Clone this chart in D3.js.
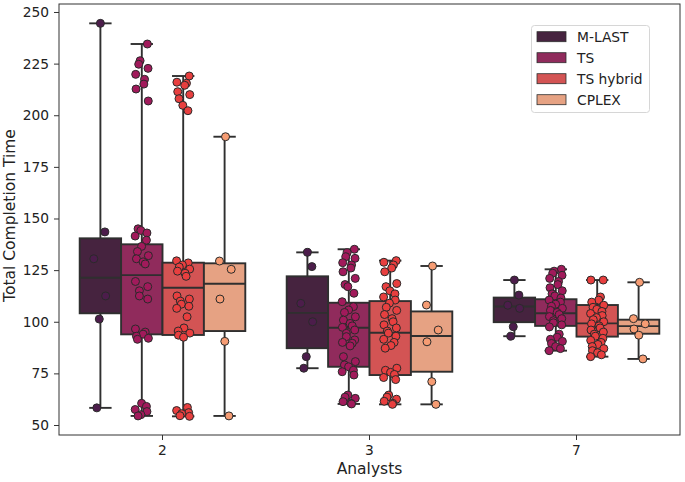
<!DOCTYPE html>
<html>
<head>
<meta charset="utf-8">
<script src="https://cdn.jsdelivr.net/npm/d3@7"></script>
<style>
  html, body { margin: 0; padding: 0; background: #fff; }
  svg { display: block; }
  text { font-family: "DejaVu Sans", sans-serif; fill: #222; }
</style>
</head>
<body>
<svg id="chart" width="685" height="482"></svg>
<script>
// ---------------- DATA ----------------
const categories = ["2", "3", "7"];
const series = ["M-LAST", "TS", "TS hybrid", "CPLEX"];
const yTicks = [50, 75, 100, 125, 150, 175, 200, 225, 250];

// Box statistics per series, in category order: [min, q1, median, q3, max]
const boxMLAST  = [[58.3, 104.1, 121.3, 140.4, 244.5], [77.5, 87.2, 104.3, 122.0, 133.6], [93.0, 99.8, 107.4, 111.7, 120.2]];
const boxTS     = [[54.4, 93.9, 122.6, 137.5, 234.5], [60.2, 78.2, 97.1, 109.2, 135.1], [86.0, 98.0, 104.1, 110.9, 125.4]];
const boxTSH    = [[54.2, 93.6, 116.5, 128.6, 219.0], [60.0, 74.2, 94.7, 110.0, 129.6], [83.1, 92.8, 99.2, 108.1, 120.2]];
const boxCPLEX  = [[54.4, 95.5, 118.4, 128.3, 189.6], [60.0, 75.8, 93.1, 105.0, 127.0], [82.0, 94.2, 97.9, 101.0, 119.1]];

// Individual observations per series, in category order
const ptsMLAST = [
  [244.5, 143.5, 130.5, 112.5, 101.3, 58.3],
  [133.6, 126.7, 108.9, 100.0, 83.1, 77.5],
  [120.2, 112.9, 108.0, 106.5, 97.6, 93.0]
];
const ptsTS = [
  [234.5, 226.4, 224.7, 222.7, 219.8, 217.4, 215.1, 212.7, 206.9,
   145.0, 144.2, 143.0, 141.5, 139.5, 136.5, 134.0, 132.0, 130.5, 129.0, 128.0,
   119.5, 117.0, 115.0, 112.5, 111.0,
   96.5, 95.0, 94.0, 93.0, 92.0, 91.5,
   60.5, 59.0, 57.5, 56.5, 55.0, 54.4],
  [135.1, 133.4, 131.5, 130.7, 128.6, 127.5, 126.0, 124.2, 121.0, 118.0, 117.0, 113.8,
   109.7, 107.3, 105.7, 104.5, 102.4, 100.8, 99.2, 98.0, 97.3, 96.0, 94.4, 92.8, 91.2, 90.0,
   89.6, 88.3, 83.1, 80.7, 79.1, 78.2, 76.5, 75.8, 74.2,
   64.5, 63.5, 62.9, 61.3, 60.5, 60.2],
  [125.4, 124.5, 123.5, 122.5, 121.0, 119.5, 118.0, 116.5, 115.0, 113.5, 112.5, 111.5,
   110.5, 109.5, 108.5, 107.5, 106.5, 105.5, 104.5, 103.5, 102.5, 101.5, 100.5, 99.5,
   98.5, 97.5, 94.0, 92.5, 91.5, 90.5, 89.5, 88.0, 87.0, 86.0]
];
const ptsTSH = [
  [219.0, 216.0, 215.5, 214.5, 211.4, 210.0, 208.0, 204.8, 202.2,
   129.5, 128.5, 127.5, 126.5, 125.5, 124.5, 123.5, 122.0,
   112.5, 111.0, 110.0, 108.5, 107.5, 106.5, 102.4,
   97.0, 95.5, 94.5, 93.5, 92.5,
   58.5, 57.0, 56.0, 55.5, 54.5, 54.2],
  [129.6, 128.8, 127.5, 126.0, 124.2, 118.5, 117.0, 115.0, 113.5, 112.0, 110.5, 109.0,
   107.0, 105.5, 103.5, 101.5, 100.0, 98.5, 97.0, 95.5, 94.5, 93.0, 91.5, 90.0, 88.5, 87.2,
   77.5, 76.5, 75.5, 74.5, 73.0, 72.0, 64.5, 63.5, 62.5, 61.5, 60.5, 60.0],
  [120.2, 120.2, 112.0, 110.5, 109.5, 108.0, 107.0, 106.0, 105.0, 104.0, 103.0, 102.0,
   101.0, 100.0, 99.0, 98.0, 97.0, 96.0, 95.0, 94.0, 93.0, 92.0, 91.0, 90.0, 89.0,
   88.0, 87.0, 86.0, 85.0, 84.0, 83.1]
];
const ptsCPLEX = [
  [189.6, 129.4, 125.4, 111.0, 90.5, 54.4],
  [127.0, 108.1, 96.0, 90.3, 71.0, 60.0],
  [119.1, 101.5, 99.0, 96.5, 93.5, 82.0]
];

const pointColors = ["#4c1d4b", "#a11a5b", "#e83f3f", "#f69c73"];
const boxColors   = ["#46233f", "#902b5c", "#d35454", "#e6a283"];

// ---------------- BUILD ----------------
const boxStats = [boxMLAST, boxTS, boxTSH, boxCPLEX];
const points = [ptsMLAST, ptsTS, ptsTSH, ptsCPLEX];

const svg = d3.select("#chart");
const margin = {left: 59, right: 5, top: 4, bottom: 47};
const W = 685, H = 482;

const x = d3.scaleBand().domain(categories).range([margin.left, W - margin.right]).padding(0);
const bw = x.bandwidth();
const xh = d3.scaleBand().domain(series).range([0.1 * bw, 0.9 * bw]).padding(0);
const hw = xh.bandwidth();
const y = d3.scaleLinear().domain([45.16, 253.87]).range([H - margin.bottom, margin.top]);

const edge = "#2f2f2f";
const g = svg.append("g");

// Boxes
series.forEach((s, si) => {
  categories.forEach((c, ci) => {
    const [mn, q1, md, q3, mx] = boxStats[si][ci];
    const x0 = x(c) + xh(s);
    const xc = x0 + hw / 2;
    const cap = hw * 0.27;
    const grp = g.append("g");
    grp.append("line").attr("x1", xc).attr("x2", xc).attr("y1", y(q3)).attr("y2", y(mx))
      .attr("stroke", edge).attr("stroke-width", 1.9);
    grp.append("line").attr("x1", xc).attr("x2", xc).attr("y1", y(q1)).attr("y2", y(mn))
      .attr("stroke", edge).attr("stroke-width", 1.9);
    grp.append("line").attr("x1", xc - cap).attr("x2", xc + cap).attr("y1", y(mx)).attr("y2", y(mx))
      .attr("stroke", edge).attr("stroke-width", 1.9);
    grp.append("line").attr("x1", xc - cap).attr("x2", xc + cap).attr("y1", y(mn)).attr("y2", y(mn))
      .attr("stroke", edge).attr("stroke-width", 1.9);
    grp.append("rect").attr("x", x0).attr("width", hw).attr("y", y(q3)).attr("height", y(q1) - y(q3))
      .attr("fill", boxColors[si]).attr("stroke", edge).attr("stroke-width", 1.9);
    grp.append("line").attr("x1", x0).attr("x2", x0 + hw).attr("y1", y(md)).attr("y2", y(md))
      .attr("stroke", edge).attr("stroke-width", 1.9);
  });
});

// Points (strip plot with deterministic jitter)
series.forEach((s, si) => {
  categories.forEach((c, ci) => {
    const xc = x(c) + xh(s) + hw / 2;
    const vals = points[si][ci];
    g.append("g").selectAll("circle").data(vals).join("circle")
      .attr("cx", (d, i) => xc + 0.16 * hw * Math.sin(i * 2.399 + si))
      .attr("cy", d => y(d))
      .attr("r", 4)
      .attr("fill", pointColors[si])
      .attr("stroke", "#2a2a2a")
      .attr("stroke-width", 1);
  });
});

// Axes
const yAxis = d3.axisLeft(y).tickValues(yTicks).tickSize(5).tickPadding(5);
const yg = svg.append("g").attr("transform", `translate(${margin.left},0)`).call(yAxis);
yg.select(".domain").remove();
yg.selectAll("line").attr("stroke", "#333");
yg.selectAll("text").style("font-size", "13.8px").style("fill", "#222");

const xAxis = d3.axisBottom(x).tickSize(5).tickPadding(5);
const xg = svg.append("g").attr("transform", `translate(0,${H - margin.bottom})`).call(xAxis);
xg.select(".domain").remove();
xg.selectAll("line").attr("stroke", "#333");
xg.selectAll("text").style("font-size", "13.8px").style("fill", "#222");

// Frame
svg.append("rect").attr("x", margin.left).attr("y", margin.top)
  .attr("width", W - margin.right - margin.left).attr("height", H - margin.bottom - margin.top)
  .attr("fill", "none").attr("stroke", "#333").attr("stroke-width", 1);

// Axis labels
svg.append("text").attr("x", (margin.left + W - margin.right) / 2).attr("y", 474)
  .attr("text-anchor", "middle").style("font-size", "15.5px").text("Analysts");
svg.append("text").attr("transform", `translate(10,${(margin.top + H - margin.bottom) / 2 - 4}) rotate(-90)`)
  .attr("text-anchor", "middle").attr("dy", "0.35em").style("font-size", "15.5px").text("Total Completion Time");

// Legend
const lg = svg.append("g");
lg.append("rect").attr("x", 531.5).attr("y", 25.5).attr("width", 118).attr("height", 87)
  .attr("rx", 3).attr("fill", "#fff").attr("fill-opacity", 0.8).attr("stroke", "#d6d6d6");
series.forEach((s, si) => {
  const ry = 36.7 + si * 21;
  lg.append("rect").attr("x", 537).attr("y", ry - 5).attr("width", 29).attr("height", 10)
    .attr("fill", boxColors[si]).attr("stroke", edge).attr("stroke-width", 0.8);
  lg.append("text").attr("x", 577).attr("y", ry).attr("dy", "0.36em")
    .style("font-size", "13.8px").text(s);
});
</script>
</body>
</html>
